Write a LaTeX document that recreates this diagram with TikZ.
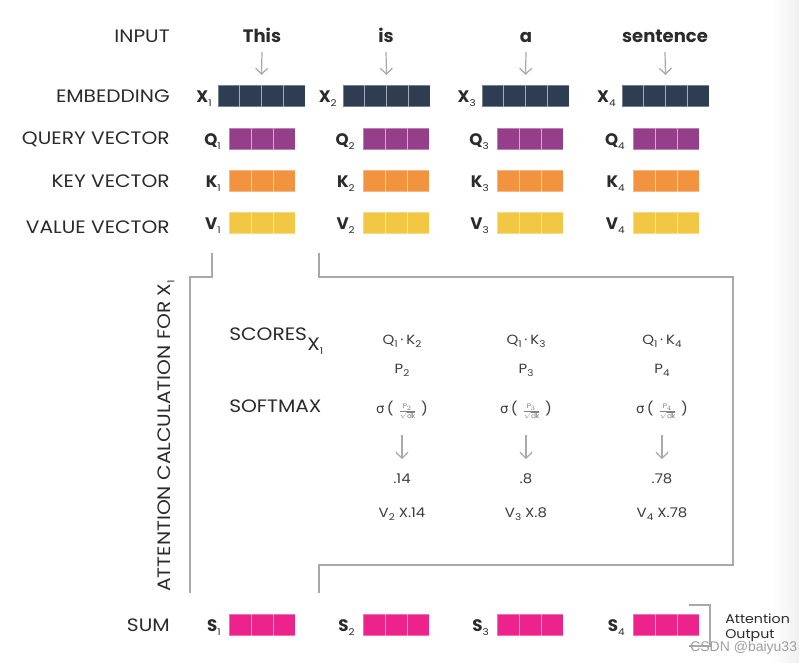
\documentclass[tikz,border=0pt]{standalone}
\usepackage{fontspec}
\setmainfont{Poppins}[FakeStretch=1.12]
\newfontfamily\bfam{Poppins}
\newfontfamily\dejavu{DejaVu Sans}
\newfontfamily\wmfont{Liberation Sans}
\usetikzlibrary{arrows.meta,calc}
\definecolor{emb}{HTML}{2E3D52}
\definecolor{qry}{HTML}{953F8A}
\definecolor{keyc}{HTML}{F2933F}
\definecolor{valc}{HTML}{F2C744}
\definecolor{sumc}{HTML}{EC238B}
\definecolor{txt}{HTML}{2B2B2B}
\definecolor{txtb}{HTML}{3C3C3C}
\definecolor{ln}{HTML}{A9A9A9}
\newcommand\sbs[1]{\raisebox{-0.45ex}{\normalfont\fontsize{7}{8}\selectfont #1}}
\newcommand\vecbox[5]{% x, y, cell width, n cells, colour
  \fill[#5] (#1,#2) rectangle ++({#3*#4},21.5);
  \foreach \k in {1,...,#4}{\draw[cellline] ({#1+(\k-1)*#3},#2) rectangle ++(#3,21.5);}
}
\newcommand\fr[1]{{\color{gray}\fontsize{6}{7}\selectfont$\frac{\mathrm{P}_{#1}}{\sqrt{\mathrm{dk}}}$}}
\begin{document}
\begin{tikzpicture}[x=0.75pt,y=-0.75pt,
  lab/.style={anchor=base east, inner sep=0, text=txt, font=\fontsize{13.5}{16}\selectfont},
  labw/.style={anchor=base west, inner sep=0, text=txt, font=\fontsize{13.5}{16}\selectfont},
  word/.style={anchor=base, inner sep=0, text=txt, font=\bfam\bfseries\fontsize{13.5}{16}\selectfont},
  vlab/.style={anchor=base east, inner sep=0, text=txt, font=\bfam\bfseries\fontsize{12.5}{15}\selectfont},
  calcx/.style={anchor=base, inner sep=0, text=txtb, font=\fontsize{10}{12}\selectfont},
  garrow/.style={draw=ln, line width=0.9pt, -{Straight Barb[length=4.5pt,width=9pt]}},
  bracket/.style={draw=ln, line width=1.1pt},
  cellline/.style={draw=white, draw opacity=0.35, line width=0.5pt}]
\useasboundingbox (0,0) rectangle (799,662);
\fill[white] (0,0) rectangle (799,662);
\shade[left color=white, right color=gray!12] (772,0) rectangle (799,662);

% row labels
\node[lab] (linput) at (170,42) {INPUT};
\node[lab] (lemb) at (170,102) {EMBEDDING};
\node[lab] (lq) at (170,144) {QUERY VECTOR};
\node[lab] (lk) at (170,187) {KEY VECTOR};
\node[lab] (lv) at (170,233) {VALUE VECTOR};
\node[lab] (lsum) at (170,631) {SUM};

% words
\node[word] (w1) at (262,42) {This};
\node[word] (w2) at (386,42) {is};
\node[word] (w3) at (526,42) {a};
\node[word] (w4) at (665,42) {sentence};

% embedding boxes
\foreach \i/\x in {1/218,2/343,3/482,4/622}{
  \vecbox{\x}{85}{21.75}{4}{emb}
  \coordinate (e\i) at ({\x+43.5},85);
  \node[vlab] (x\i) at ({\x-6},102) {X\sbs{\i}};
}
\foreach \i in {1,...,4}{
  \draw[garrow] ($(w\i.base)+(0,10)$) -- ($(e\i)+(0,-10)$);
}
% Q K V S
\foreach \i/\x in {1/229,2/363,3/497,4/633}{
  \vecbox{\x}{128}{22}{3}{qry}
  \vecbox{\x}{170}{22}{3}{keyc}
  \vecbox{\x}{212}{22}{3}{valc}
  \vecbox{\x}{614}{22}{3}{sumc}
  \node[vlab] (q\i) at ({\x-8},145) {Q\sbs{\i}};
  \node[vlab] (k\i) at ({\x-8},187) {K\sbs{\i}};
  \node[vlab] (v\i) at ({\x-8},229) {V\sbs{\i}};
  \node[vlab] (s\i) at ({\x-8},631) {S\sbs{\i}};
}

% brackets
\coordinate (b1a) at (212,253);
\coordinate (b1b) at (190,593);
\draw[bracket] (b1a) -- (212,277) -- (190,277) -- (b1b);
\coordinate (b2a) at (319,253);
\coordinate (b2b) at (319,593);
\draw[bracket] (b2a) -- (319,277) -- (733,277) -- (733,565) -- (319,565) -- (b2b);

% rotated label
\node[rotate=90, anchor=base, inner sep=0, text=txt, font=\fontsize{13.5}{16}\selectfont] (att) at (170,436) {ATTENTION CALCULATION FOR X\sbs{1}};

% scores / softmax
\node[labw] (scores) at (229,340) {SCORES};
\node[labw] (scx) at (307,350) {X\sbs{1}};
\node[labw] (softmax) at (229,412) {SOFTMAX};

\foreach \c/\x/\n/\p in {1/402/2/.14, 2/526/3/.8, 3/662/4/.78}{
  \node[calcx] (qk\c) at (\x,344) {Q\sbs{1}\,{\dejavu ·}\,K\sbs{\n}};
  \node[calcx] (p\c) at (\x,373) {P\sbs{\n}};
  \node[calcx] (sm\c) at (\x,413) {{\dejavu σ}\,(\,\,\fr{\n}\,\,)};
  \node[calcx] (val\c) at (\x,483) {\p};
  \node[calcx] (vv\c) at (\x,517) {V\sbs{\n} X\p};
  \draw[garrow] ($(sm\c.base)+(0,22)$) -- ($(val\c.base)+(0,-24)$);
}

% attention output bracket
\coordinate (ob1) at (689,605);
\coordinate (ob2) at (689,646);
\draw[bracket] (ob1) -- (710,605) -- (710,646) -- (ob2);
\node[anchor=base west, inner sep=0, text=txt, font=\fontsize{9.5}{11}\selectfont] (ao1) at (725,623) {Attention};
\node[anchor=base west, inner sep=0, text=txt, font=\fontsize{9.5}{11}\selectfont] (ao2) at (725,638) {Output};
\node[anchor=base west, inner sep=0, text=gray!75, font=\wmfont\fontsize{10.5}{12}\selectfont] (wm) at (690,651) {CSDN @baiyu33};
\end{tikzpicture}
\end{document}
